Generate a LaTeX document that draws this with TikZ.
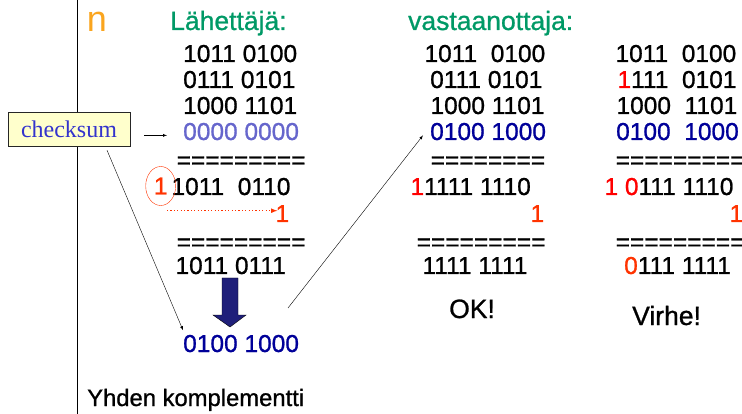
\documentclass[tikz,border=0pt]{standalone}
\usepackage{fontspec}
\setmainfont{Liberation Sans}
\newfontfamily\heavyfont[FakeBold=0.9]{Liberation Sans}
\newfontfamily\seriffont{Liberation Serif}
\usepackage{tikz}
\usetikzlibrary{positioning}
\usetikzlibrary{arrows}
\usetikzlibrary{shapes.geometric}
\definecolor{headgreen}{RGB}{0,153,102}
\definecolor{bulletorange}{RGB}{250,165,30}
\definecolor{darkblue}{RGB}{0,0,153}
\definecolor{paleblue}{RGB}{102,102,204}
\definecolor{checkblue}{RGB}{51,51,204}
\definecolor{errred}{RGB}{255,0,0}
\definecolor{carryred}{RGB}{255,51,0}
\definecolor{arrowblue}{RGB}{31,31,122}
\definecolor{noteyellow}{RGB}{255,255,204}
\tikzset {
  >=latex,
  % binary rows
  bits/.style={inner sep=0pt, anchor=base west, font=\heavyfont\fontsize{24.5}{29}\selectfont},
  % column headings
  coltitle/.style={bits, font=\heavyfont\fontsize{26.5}{32}\selectfont, text=headgreen},
  % carry bit that wraps around
  carryring/.style={draw=carryred, ellipse, inner sep=0pt, minimum width=30pt,
    minimum height=39pt, text=carryred, font=\heavyfont\fontsize{24.5}{29}\selectfont},
  % yellow label box
  notebox/.style={draw=black!85, fill=noteyellow, text=checkblue, inner sep=0pt,
    minimum width=122pt, minimum height=34pt, font=\seriffont\fontsize{24}{28}\selectfont},
  pointer/.style={->, thin},
  carryline/.style={->, carryred, line width=1.1pt, dash pattern=on 1.2pt off 2.2pt},
}
\begin{document}
\begin{tikzpicture}[x=1pt, y=-1pt]
  \useasboundingbox (0,0) rectangle (742,414);
  \draw[line width=0.8pt] (77,0) -- (77,414);

  \node[bits, font=\fontsize{36}{40}\selectfont, text=bulletorange] (bl) at (86.6,32) {n};
  \node[notebox] (cks) at (69,129) {checksum};

  % sender
  \node[coltitle] (st) at (170,30) {Lähettäjä:};
  \node[bits] (s1) at (183,62) {1011 0100};
  \node[bits] (s2) at (183,88) {0111 0101};
  \node[bits] (s3) at (183,114) {1000 1101};
  \node[bits, text=paleblue] (s4) at (183,140) {0000 0000};
  \node[bits] (se1) at (176.5,168.6) {=========};
  \node[bits] (s5) at (171.3,195) {1011\ \ 0110};
  \node[carryring] (sc) at (160.7,186) {1};
  \node[bits, text=carryred] (s6) at (275.3,222) {1};
  \node[bits] (se2) at (176.5,250.5) {=========};
  \node[bits] (s7) at (175.3,274) {1011 0111};
  \node[bits, text=darkblue] (sum) at (183,352) {0100 1000};
  \node[bits, font=\heavyfont\fontsize{23.8}{28}\selectfont] (yk) at (87,406) {Yhden komplementti};

  \coordinate (ds) at (167,210.7);
  \draw[carryline] (ds) -- ([xshift=2pt]ds -| s6.west);
  \draw[fill=arrowblue] (222,278) -- (238,278) -- (238,315) -- (246,315)
    -- (230,327) -- (213,315) -- (222,315) -- cycle;

  % receiver, no errors
  \node[coltitle] (rt) at (408,30) {vastaanottaja:};
  \node[bits] (r1) at (424.3,62) {1011\ \ 0100};
  \node[bits] (r2) at (430,88) {0111 0101};
  \node[bits] (r3) at (430.3,114) {1000 1101};
  \node[bits, text=darkblue] (r4) at (430,140) {0100 1000};
  \node[bits] (re1) at (430.5,168.6) {========};
  \node[bits] (r5) at (410.3,195) {\textcolor{errred}{1}1111 1110};
  \node[bits, text=carryred] (rc) at (530.3,222) {1};
  \node[bits] (re2) at (416.5,250.5) {=========};
  \node[bits] (r6) at (422.3,274) {1111 1111};
  \node[bits, font=\heavyfont\fontsize{26.5}{32}\selectfont] (ok) at (449,318) {OK!};

  % receiver, one bit flipped
  \node[bits] (w1) at (615.3,62) {1011\ \ 0100};
  \node[bits] (w2) at (617.3,88) {\textcolor{errred}{1}111\ \ 0101};
  \node[bits] (w3) at (616.3,114) {1000\ \ 1101};
  \node[bits, text=darkblue] (w4) at (616,140) {0100\ \ 1000};
  \node[bits] (we1) at (615.5,168.6) {=========};
  \node[bits] (w5) at (604.3,195) {\textcolor{errred}{1 0}111 1110};
  \node[bits, text=carryred] (wc) at (729.3,222) {1};
  \node[bits] (we2) at (615.5,250.5) {=========};
  \node[bits] (w6) at (624,274) {\textcolor{carryred}{0}111 1111};
  \node[bits, font=\heavyfont\fontsize{26.5}{32}\selectfont] (vi) at (632,325) {Virhe!};

  \draw[pointer] ([shift={(-39pt,-3.8pt)}]s4.west) -- ([shift={(-16pt,-3.8pt)}]s4.west);
  \draw[pointer] ([shift={(38pt,-4pt)}]cks.south) -- ([yshift=4.5pt]sum.north west);
  \coordinate (cs) at (288,308);
  \draw[pointer] (cs) -- ([shift={(-7pt,-3.8pt)}]r4.west);
\end{tikzpicture}
\end{document}
